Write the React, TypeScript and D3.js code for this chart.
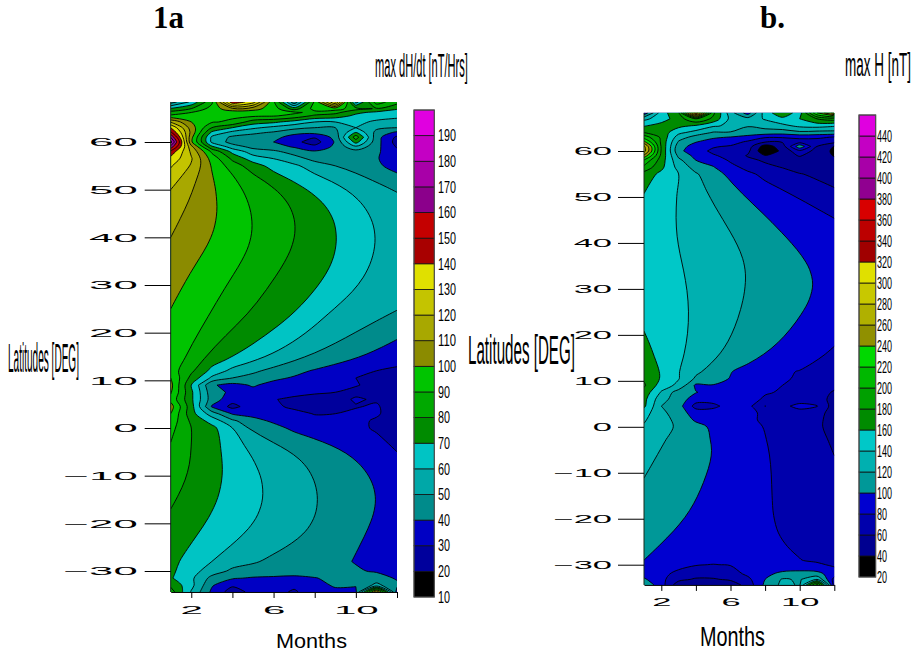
import React, { useRef, useEffect } from "react";
import { select, axisLeft, axisBottom, scaleLinear, contours, line, curveCatmullRom, curveCatmullRomClosed } from "d3";

const months = [1, 2, 3, 4, 5, 6, 7, 8, 9, 10, 11, 12];
const monthTicks = [2, 4, 6, 8, 10, 12];
const monthLabels = [2, 6, 10];
const latTicks = [60, 50, 40, 30, 20, 10, 0, -10, -20, -30];
// latitude stretches where the isolines are long and calm, the rest keeps its detail
const calmLats = [[53, 13], [-1, -27]];

// left panel: max dH/dt, rows run from north to south
const latsA = [68.4, 67, 66.2, 65.5, 64.2, 63, 62, 61, 60, 59, 58, 56.5, 55, 50, 45, 40, 35, 30, 25, 20, 15, 12, 10.5, 9, 7.5, 6, 4.5, 3, 1.5, 0, -5, -10, -15, -20, -25, -28, -30, -31.5, -33, -34.4];
const gridA = [
  [45, 62, 88, 148, 135, 92, 42, 92, 142, 55, 95, 84],
  [71, 80, 94, 108, 104, 95, 75, 94, 95, 84, 79, 71],
  [84, 90, 95, 94, 95, 93, 92, 87, 83, 72, 68, 66],
  [92, 93, 92, 92, 92, 91, 87, 78, 75, 68, 65, 62],
  [119, 100, 91, 88, 75, 72, 66, 60, 60, 63, 58, 57],
  [140, 105, 80, 70, 62, 57, 53, 50, 50, 60, 52, 50],
  [152, 107, 68, 57, 52, 49, 43, 43, 47, 70, 47, 38],
  [170, 103, 58, 48, 46, 43, 36, 31, 43, 86, 44, 28],
  [185, 102, 58, 46, 44, 40, 33, 25, 41, 74, 44, 26],
  [166, 113, 72, 55, 47, 44, 39, 33, 42, 58, 43, 29],
  [147, 118, 88, 67, 55, 52, 46, 41, 44, 46, 42, 32],
  [137, 121, 96, 78, 65, 60, 54, 47, 46, 43, 41, 33],
  [131, 119, 99, 85, 75, 66, 62, 55, 50, 46, 42, 36],
  [120, 112, 103.5, 97, 90, 83, 76.5, 70, 65, 59, 54, 49.5],
  [114, 107, 103, 96.5, 91, 85, 81, 75.5, 71, 65, 59, 54],
  [110, 104, 101, 96, 90.5, 85.5, 81.5, 76.5, 71, 66.5, 61.5, 56.5],
  [106, 101, 96.5, 93, 88, 84, 78, 74, 70.5, 65, 60, 56],
  [103, 98, 93, 88, 83, 79, 75, 71, 66, 62, 57.5, 54],
  [100, 95, 90.5, 85, 80.3, 76, 72, 66, 59, 55.5, 52.5, 50.5],
  [99, 92.5, 85, 79, 74.5, 69, 63.5, 58.5, 54, 50, 46, 42],
  [98, 87, 77, 71, 65, 59, 54.5, 50, 46, 42, 38, 35],
  [95, 82, 67, 57, 52, 47, 43, 39, 35, 32, 30, 28],
  [100, 77, 58, 50, 46.5, 42, 39, 36, 32, 30, 27, 26],
  [103, 70, 41, 37, 41, 37, 36, 34, 32, 30.5, 28, 26],
  [101, 72, 44, 38, 37, 35, 33, 31, 30, 28, 27, 24],
  [97, 72, 45, 34, 35, 30.5, 28, 27, 27, 31, 29, 24],
  [104, 74, 39, 27, 35, 32, 28, 27, 28, 29.5, 31, 25],
  [100, 74, 55, 39, 37, 35, 33, 29.5, 30, 31.5, 31, 26],
  [96, 78, 66, 52, 43, 38.5, 35, 33, 32, 32, 29, 27],
  [93, 80, 73, 60, 47, 43, 38, 35, 33, 32, 29, 27],
  [88, 81, 75, 68, 58, 53.5, 50.5, 46, 43, 39, 34, 30],
  [84, 79.5, 74, 69, 64, 59.5, 55, 50.5, 46.5, 43, 39.5, 35],
  [82, 77, 73, 68.5, 64, 59.5, 56, 52, 47.5, 44, 41, 36],
  [77, 73, 70, 66, 61, 58, 55, 51, 46.5, 43, 39.5, 35],
  [75.5, 68, 64, 59, 55.5, 52, 49, 46, 43, 40, 37, 35],
  [73, 66, 60, 54.5, 51, 48, 46, 44, 42, 39.5, 38, 36],
  [72, 64, 55, 48, 46.5, 45, 44, 43, 42, 41, 39, 37],
  [71, 62, 47, 41, 39, 38.5, 38, 39.7, 41.5, 43, 44, 39],
  [78, 63, 41, 31.5, 34, 36, 33, 38.5, 40.5, 40.5, 53, 42],
  [85, 59, 38, 25, 33, 35, 28, 38, 39, 38, 120, 35],
];
const levelsA = [10, 20, 30, 40, 50, 60, 70, 80, 90, 100, 110, 120, 130, 140, 150, 160, 170, 180, 190, 200];
const colorsA = ["#000000", "#00009c", "#0000c4", "#008b8b", "#00a8a8", "#00c4c4", "#008b00", "#00a800", "#00c400", "#8b8b00", "#a8a800", "#c4c400", "#e0e000", "#a80000", "#c40000", "#8b008b", "#a800a8", "#c400c4", "#e000e0"];

// right panel: max H
const latsB = [68.3, 67, 65.5, 64, 63, 62, 61, 60, 59, 58, 56.5, 55, 50, 45, 40, 35, 30, 25, 20, 15, 12, 10.5, 9, 7.5, 6, 4.5, 3, 1.5, 0, -5, -10, -15, -20, -25, -29, -30, -32, -33.2, -34.4];
const gridB = [
  [85, 150, 178, 340, 185, 128, 90, 150, 175, 150, 240, 290],
  [135, 150, 170, 200, 175, 135, 128, 142, 155, 160, 180, 190],
  [158, 168, 166, 158, 143, 136, 122, 128, 135, 145, 148, 143],
  [180, 172, 145, 132, 118, 118, 108, 110, 108, 115, 112, 112],
  [212, 176, 130, 112, 103, 99, 95, 82, 82, 85, 85, 78],
  [245, 176, 118, 101, 92, 89, 77, 62, 62, 70, 68, 66],
  [285, 178, 108, 92, 82, 78, 70, 30, 50, 115, 60, 39],
  [290, 178, 105, 88, 76, 72, 65, 22, 45, 75, 52, 36],
  [255, 175, 115, 94, 82, 74, 58, 41, 48, 62, 48, 39],
  [218, 170, 125, 100, 92, 77, 65, 57, 50, 50, 46, 44],
  [195, 165, 133, 112, 101, 86, 74, 65, 59, 50, 50, 46],
  [172, 155, 140, 122, 108, 95, 84, 75, 68, 61, 56, 50],
  [158, 148, 138, 128, 116, 107, 99, 92, 84, 79.5, 72, 67],
  [153, 146, 138, 131, 125, 118, 108, 102, 96, 91, 86, 81],
  [150, 143, 139, 134, 129, 122, 115, 109, 103, 97, 94, 89],
  [150, 146, 142, 136, 130, 126, 121, 114, 109, 104, 100, 92],
  [152, 148, 143, 138, 132, 126, 120, 115, 110, 105, 102, 95],
  [155, 150, 146, 138, 132, 125, 118, 112, 106, 100, 96, 88],
  [161, 150, 145, 138, 129, 121, 113, 108, 103, 96, 90, 83],
  [170, 158, 145, 132, 125, 115, 109, 100, 94, 89, 83, 77],
  [175, 158, 141, 124, 112, 101, 92, 87, 83, 79, 75, 71],
  [177, 158, 141, 117, 108, 99, 92, 86, 82, 78, 73, 68],
  [183, 150, 135, 96, 99, 92, 88, 84, 80, 76, 70, 65],
  [172, 138, 110, 101, 92, 90, 85, 81, 79, 75, 68, 58],
  [166, 127, 110, 90, 88, 88, 84, 78.5, 72, 70, 68, 54],
  [164, 120, 108, 72, 75, 88, 86, 59.5, 75, 86, 81, 50],
  [148, 126, 108, 92, 90, 88, 85, 76, 74, 72, 66, 53],
  [142, 128, 114, 97, 92, 88, 85, 76, 73, 71, 65, 51],
  [138, 129, 116, 107, 96, 91, 86, 79, 74, 70, 64, 52],
  [131, 119, 114, 107, 100.5, 96, 90, 83, 76, 70, 66, 58],
  [121.5, 115, 110, 105, 98, 94, 88, 82, 78, 74, 70, 66],
  [115, 111, 106, 101, 96, 92, 87, 82, 77, 72, 70, 68],
  [112, 107, 103, 97, 94, 90, 85, 81, 77, 73, 71, 69],
  [106, 100, 97, 94, 91, 88, 85, 81, 78.5, 76, 73, 71],
  [100, 96, 90, 86, 84, 86, 88, 88, 85, 80.5, 77, 75],
  [97, 92, 86, 81, 79.5, 81, 86, 88, 88, 90, 83, 77],
  [92, 85, 75, 70, 68, 71, 84, 96, 104, 105, 106, 90],
  [103, 85, 66, 57, 58, 63, 75, 100, 122, 118, 140, 72],
  [115, 89, 47, 45, 44, 48, 68, 104, 125, 118, 230, 70],
];
const levelsB = [20, 40, 60, 80, 100, 120, 140, 160, 180, 200, 220, 240, 260, 280, 300, 320, 340, 360, 380, 400, 420, 440, 460];
const colorsB = ["#000000", "#000090", "#0000ac", "#0000d0", "#009898", "#00b0b0", "#00c8c8", "#008b00", "#00a000", "#00b800", "#00d800", "#909000", "#b0b000", "#c8c800", "#e0e000", "#a00000", "#bc0000", "#d80000", "#900090", "#a800a8", "#c400c4", "#e000e0"];

const openCurve = line().curve(curveCatmullRom.alpha(0.5));
const closedCurve = line().curve(curveCatmullRomClosed.alpha(0.5));

// a few 1-2-1 passes over the vertices of an open run, only in the calm stretches
function relax(run: number[][], calm: (y: number) => boolean) {
  let cur = run;
  for (let pass = 0; pass < 4; pass++) {
    cur = cur.map((p, i) => {
      if (i === 0 || i === cur.length - 1 || !calm(p[1])) return p;
      const a = cur[i - 1];
      const b = cur[i + 1];
      return [(a[0] + 2 * p[0] + b[0]) / 4, (a[1] + 2 * p[1] + b[1]) / 4];
    });
  }
  return cur;
}

// one contour ring -> { fill, stroke } path strings. Stretches along the frame stay straight
// and get no stroke, sharp corners stay sharp, the rest is smoothed
function ringToPaths(ring: number[][], box: any, calm: (y: number) => boolean) {
  const pts: number[][] = [];
  ring.forEach((p) => {
    const last = pts[pts.length - 1];
    if (!last || Math.hypot(p[0] - last[0], p[1] - last[1]) > 0.05) pts.push(p);
  });
  if (Math.hypot(pts[0][0] - pts[pts.length - 1][0], pts[0][1] - pts[pts.length - 1][1]) < 0.05) pts.pop();
  const n = pts.length;
  if (n < 3) return { fill: "", stroke: "" };

  const same = (a: number, b: number) => Math.abs(a - b) < 0.01;
  const frameSeg = (i: number) => {
    const a = pts[i];
    const b = pts[(i + 1) % n];
    return (
      (same(a[0], box.left) && same(b[0], box.left)) ||
      (same(a[0], box.right) && same(b[0], box.right)) ||
      (same(a[1], box.top) && same(b[1], box.top)) ||
      (same(a[1], box.bottom) && same(b[1], box.bottom))
    );
  };
  const isBreak = (i: number) => {
    const prev = (i - 1 + n) % n;
    if (frameSeg(prev) || frameSeg(i)) return true;
    const a = pts[prev];
    const b = pts[i];
    const c = pts[(i + 1) % n];
    const a1 = Math.atan2(b[1] - a[1], b[0] - a[0]);
    const a2 = Math.atan2(c[1] - b[1], c[0] - b[0]);
    let turn = Math.abs(a1 - a2);
    if (turn > Math.PI) turn = 2 * Math.PI - turn;
    return turn > (65 * Math.PI) / 180;
  };

  const breaks = pts.map((_, i) => i).filter(isBreak);
  if (!breaks.length) {
    const d = closedCurve(pts) as string;
    return { fill: d, stroke: d };
  }

  const start = breaks[0];
  let fill = `M${pts[start][0]},${pts[start][1]}`;
  let stroke = "";
  let run: number[][] = [pts[start]];
  let runStart = start;
  for (let k = 1; k <= n; k++) {
    const idx = (start + k) % n;
    run.push(pts[idx]);
    if (k === n || isBreak(idx)) {
      if (run.length === 2 && frameSeg(runStart)) {
        fill += `L${run[1][0]},${run[1][1]}`;
      } else {
        const d = openCurve(relax(run, calm)) as string;
        fill += d.replace(/^M/, "L");
        stroke += d;
      }
      run = [pts[idx]];
      runStart = idx;
    }
  }
  return { fill: fill + "Z", stroke };
}

function ContourPanel({ id, lats, grid, levels, colors, x0, x1, y60, yM30, labelGap, labelScale, xLabelY, xLabelScale, tickLen }: any) {
  const ref = useRef<SVGGElement>(null);

  useEffect(() => {
    const root = select(ref.current);
    root.selectAll("*").remove();

    const xScale = scaleLinear().domain([1, 12]).range([x0, x1]);
    const yScale = scaleLinear().domain([-30, 60]).range([yM30, y60]);

    // contour space -> month / latitude, the rows are not evenly spaced
    const colScale = scaleLinear().domain([0.5, months.length - 0.5]).range([1, 12]).clamp(true);
    const rowScale = scaleLinear().domain(lats.map((_: number, i: number) => i + 0.5)).range(lats).clamp(true);

    const bands = contours()
      .size([months.length, lats.length])
      .thresholds(levels.slice(0, -1))(grid.flat());

    const box = { left: xScale(1), right: xScale(12), top: yScale(lats[0]), bottom: yScale(lats[lats.length - 1]) };
    const calm = (y: number) => {
      const lat = yScale.invert(y);
      return calmLats.some(([hi, lo]) => lat <= hi && lat >= lo);
    };
    const clipId = `plot-${id}`;
    root
      .append("clipPath")
      .attr("id", clipId)
      .append("rect")
      .attr("x", box.left)
      .attr("y", box.top)
      .attr("width", box.right - box.left)
      .attr("height", box.bottom - box.top);

    const shapes = bands.map((band: any, i: number) => {
      let fill = "";
      let stroke = "";
      band.coordinates.forEach((poly: any) =>
        poly.forEach((ring: any) => {
          const pixels = ring.map((pt: number[]) => [xScale(colScale(pt[0])), yScale(rowScale(pt[1]))]);
          const p = ringToPaths(pixels, box, calm);
          fill += p.fill;
          stroke += p.stroke;
        })
      );
      return { fill, stroke, color: colors[i] };
    });

    const plot = root.append("g").attr("clip-path", `url(#${clipId})`);
    shapes.forEach((s: any) => {
      plot.append("path").attr("d", s.fill).attr("fill", s.color);
      plot
        .append("path")
        .attr("d", s.stroke)
        .attr("fill", "none")
        .attr("stroke", "#000")
        .attr("stroke-width", 0.9)
        .attr("stroke-linejoin", "round");
    });

    const yAxis = axisLeft(yScale)
      .tickValues(latTicks)
      .tickSize(tickLen)
      .tickSizeOuter(0)
      .tickFormat((d: any) => (d < 0 ? "\u2212" + Math.abs(d) : String(d)));
    const gy = root.append("g").attr("transform", `translate(${box.left},0)`).call(yAxis);
    gy.select(".domain").attr("d", `M0,${box.top}V${box.bottom}`).attr("stroke", "#1a2a1a");
    gy.selectAll("text")
      .attr("x", 0)
      .attr("font-family", "Liberation Sans")
      .attr("font-size", 11.5)
      .attr("fill", "#000")
      .attr("transform", `translate(${-labelGap},0) scale(${labelScale},1)`);

    const xAxis = axisBottom(xScale)
      .tickValues(monthTicks)
      .tickSize(6)
      .tickSizeOuter(0)
      .tickFormat((d: any) => (monthLabels.includes(d) ? String(d) : ""));
    const gx = root.append("g").attr("transform", `translate(0,${box.bottom})`).call(xAxis);
    gx.selectAll("text")
      .attr("y", 0)
      .attr("font-family", "Liberation Sans")
      .attr("font-size", 11.5)
      .attr("fill", "#000")
      .attr("transform", `translate(0,${xLabelY - box.bottom}) scale(${xLabelScale},1)`);
  }, [id]);

  return <g ref={ref} />;
}

function Legend({ levels, colors, x, width, top, bottom, labelX, perChar, fontSize }: any) {
  const ref = useRef<SVGGElement>(null);
  useEffect(() => {
    const yScale = scaleLinear().domain([levels[0], levels[levels.length - 1]]).range([bottom, top]);
    const g = select(ref.current);
    g.selectAll("*").remove();
    g.selectAll("rect.box")
      .data(colors)
      .join("rect")
      .attr("class", "box")
      .attr("x", x)
      .attr("width", width)
      .attr("y", (_: any, i: number) => yScale(levels[i + 1]))
      .attr("height", (_: any, i: number) => yScale(levels[i]) - yScale(levels[i + 1]))
      .attr("fill", (c: string) => c)
      .attr("stroke", "#111")
      .attr("stroke-width", 0.8);
    g.append("rect")
      .attr("x", x)
      .attr("y", top)
      .attr("width", width)
      .attr("height", bottom - top)
      .attr("fill", "none")
      .attr("stroke", "#555")
      .attr("stroke-width", 1);
    g.selectAll("text")
      .data(levels.slice(0, -1))
      .join("text")
      .attr("x", labelX)
      .attr("y", (d: number) => yScale(d))
      .attr("dy", "0.36em")
      .attr("font-family", "Liberation Sans")
      .attr("font-size", fontSize)
      .attr("textLength", (d: number) => String(d).length * perChar)
      .attr("lengthAdjust", "spacingAndGlyphs")
      .text((d: number) => d);
  }, []);
  return <g ref={ref} />;
}

// squeezed axis titles, stretched to the width they have in the picture
function Label({ x, y, w, size, children }: any) {
  const ref = useRef<SVGTextElement>(null);
  useEffect(() => {
    const node = ref.current as SVGTextElement;
    const natural = node.getComputedTextLength();
    node.setAttribute("transform", `translate(${x},${y}) scale(${w / natural},1)`);
  }, []);
  return (
    <text ref={ref} fontFamily="Liberation Sans" fontSize={size}>
      {children}
    </text>
  );
}

export default function App() {
  return (
    <svg width={916} height={655} style={{ position: "absolute", left: 0, top: 0, display: "block", background: "#fff" }}>
      <text x={153} y={28} fontFamily="Liberation Serif" fontWeight="bold" fontSize={31}>1a</text>
      <text x={760} y={28} fontFamily="Liberation Serif" fontWeight="bold" fontSize={31}>b.</text>

      <ContourPanel id="a" lats={latsA} grid={gridA} levels={levelsA} colors={colorsA} x0={170.7} x1={397} y60={142} yM30={571} labelGap={33} labelScale={3.8} xLabelY={606} xLabelScale={3.5} tickLen={26} />
      <Legend levels={levelsA} colors={colorsA} x={414} width={20.3} top={110} bottom={597} labelX={438} perChar={6} fontSize={16} />
      <Label x={375} y={77} w={93} size={34}>max dH/dt [nT/Hrs]</Label>
      <Label x={8} y={372} w={71} size={41}>Latitudes [DEG]</Label>
      <Label x={276} y={648} w={71} size={21}>Months</Label>

      <ContourPanel id="b" lats={latsB} grid={gridB} levels={levelsB} colors={colorsB} x0={644} x1={834.3} y60={151} yM30={564.7} labelGap={32} labelScale={3} xLabelY={598} xLabelScale={3} tickLen={26} />
      <Legend levels={levelsB} colors={colorsB} x={859} width={16.7} top={115} bottom={577} labelX={877} perChar={5} fontSize={16} />
      <Label x={845} y={76} w={66} size={33}>max H [nT]</Label>
      <Label x={468} y={364} w={107} size={41}>Latitudes [DEG]</Label>
      <Label x={700} y={646} w={65} size={27}>Months</Label>
    </svg>
  );
}
